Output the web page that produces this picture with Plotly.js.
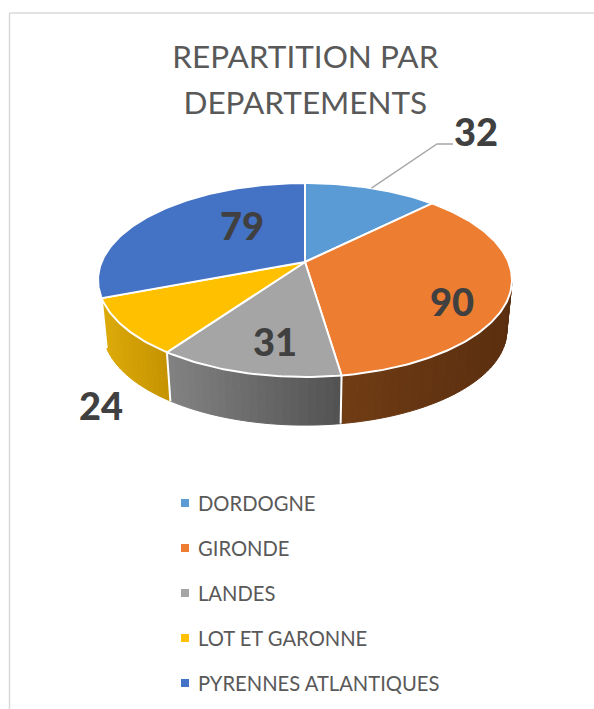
<!DOCTYPE html>
<html>
<head>
<meta charset="utf-8">
<script src="https://cdn.plot.ly/plotly-3.0.1.min.js"></script>
<style>html,body{margin:0;padding:0;background:#fff}#c{width:594px;height:709px}</style>
</head>
<body>
<div id="c"></div>
<script>
const categories = ['DORDOGNE','GIRONDE','LANDES','LOT ET GARONNE','PYRENNES ATLANTIQUES'];
const values = [32, 90, 31, 24, 79];
const colors = ['#5B9BD5','#ED7D31','#A5A5A5','#FFC000','#4472C4'];
const sideLeft  = [[91,155,213],[112,60,20],[130,130,130],[220,170,8],[47,79,136]];
const sideRight = [[91,155,213],[90,46,15],[82,82,82],[197,147,0],[47,79,136]];
const labelX = [476,452,275,101,242];
const labelY = [131,301,341,405,225];
const legendY = [503,548,593,638,683];

// Projection of the tilted pie on the pixel-scaled axes
const cx=305, cy=262, R=203.4, S=93.66, k=0.1856, dyBase=51, sBase=0.975;
const rad=d=>d*Math.PI/180;
function rimTop(t){const u=Math.sin(rad(t)),v=Math.cos(rad(t)),w=1+k*v;return [cx+R*u/w, cy-S*v/w];}
function rimLow(t){const u=Math.sin(rad(t)),v=Math.cos(rad(t)),w=1+k*v;return [cx+sBase*R*u/w, cy+dyBase-sBase*S*v/w];}

const total=values.reduce((a,b)=>a+b,0);
const bounds=[0];
values.forEach(v=>bounds.push(bounds[bounds.length-1]+v/total*360));
const tMin=180-Math.acos(k)*180/Math.PI;
const tMax=bounds[4]; // the last slice's wall faces away from the viewer

const traces=[];
const base={mode:'lines',hoverinfo:'skip',showlegend:false};
const lerp=(a,b,f)=>a.map((c,i)=>Math.round(c+(b[i]-c)*f));

// side wall, strips coloured left to right
values.forEach((val,i)=>{
  const a=Math.max(bounds[i],tMin), b=Math.min(bounds[i+1],tMax);
  if(b<=a) return;
  const n=Math.max(1,Math.ceil((b-a)/2));
  const ends=[rimTop(a)[0],rimTop(b)[0]];
  const xl=Math.min(...ends), xr=Math.max(...ends);
  for(let j=0;j<n;j++){
    const t0=a+(b-a)*j/n, t1=a+(b-a)*(j+1)/n;
    const p=[rimTop(t0),rimTop(t1),rimLow(t1),rimLow(t0),rimTop(t0)];
    const f=(rimTop((t0+t1)/2)[0]-xl)/Math.max(1,xr-xl);
    const c='rgb('+lerp(sideLeft[i],sideRight[i],f).join(',')+')';
    traces.push(Object.assign({},base,{x:p.map(q=>q[0]),y:p.map(q=>q[1]),fill:'toself',fillcolor:c,line:{color:c,width:1}}));
  }
});
// white dividers on the wall
bounds.forEach(t=>{
  if(t>tMin && t<=tMax){
    const p=[rimTop(t),rimLow(t)];
    traces.push(Object.assign({},base,{x:p.map(q=>q[0]),y:p.map(q=>q[1]),line:{color:'#fff',width:2}}));
  }
});
// top face wedges
values.forEach((val,i)=>{
  const xs=[cx], ys=[cy];
  const a=bounds[i], b=bounds[i+1], n=Math.ceil((b-a));
  for(let j=0;j<=n;j++){const p=rimTop(a+(b-a)*j/n);xs.push(p[0]);ys.push(p[1]);}
  xs.push(cx);ys.push(cy);
  traces.push(Object.assign({},base,{name:categories[i],x:xs,y:ys,fill:'toself',fillcolor:colors[i],line:{color:'#fff',width:2}}));
});
// leader line for the first label
const mid=rimTop((bounds[0]+bounds[1])/2);
traces.push(Object.assign({},base,{x:[mid[0],437,453],y:[mid[1],144,144],line:{color:'#A6A6A6',width:1.3}}));
// legend keys
categories.forEach((c,i)=>{
  traces.push({x:[185],y:[legendY[i]],mode:'markers',hoverinfo:'skip',showlegend:false,marker:{symbol:'square',size:8,color:colors[i]}});
});

const annotations=[];
values.forEach((v,i)=>annotations.push({x:labelX[i],y:labelY[i],xref:'x',yref:'y',text:String(v),showarrow:false,xanchor:'center',yanchor:'middle',font:{family:'Lato',size:38,color:'#404040',weight:900}}));
categories.forEach((c,i)=>annotations.push({x:196,y:legendY[i]-0.5,xref:'x',yref:'y',text:c,showarrow:false,xanchor:'left',yanchor:'middle',font:{family:'Lato',size:20.2,color:'#595959'}}));

const layout={
  width:594,height:709,margin:{l:0,r:0,t:0,b:0},paper_bgcolor:'#fff',plot_bgcolor:'#fff',showlegend:false,
  title:{text:'<span style="font-size:31.5px">REPARTITION PAR</span><br><span style="font-size:31.5px">DEPARTEMENTS</span>',x:0.514,xanchor:'center',y:0.904,yanchor:'top',font:{family:'Lato',size:35.4,color:'#595959'}},
  xaxis:{range:[0,594],visible:false,fixedrange:true},
  yaxis:{range:[709,0],visible:false,fixedrange:true},
  shapes:[
    {type:'line',xref:'paper',yref:'paper',x0:9.5/594,x1:1,y0:1-13/709,y1:1-13/709,line:{color:'#D9D9D9',width:1.5}},
    {type:'line',xref:'paper',yref:'paper',x0:9.5/594,x1:9.5/594,y0:0,y1:1-13/709,line:{color:'#D9D9D9',width:1.5}}
  ],
  annotations
};
Plotly.newPlot('c',traces,layout,{displayModeBar:false,responsive:false});
</script>
</body>
</html>
